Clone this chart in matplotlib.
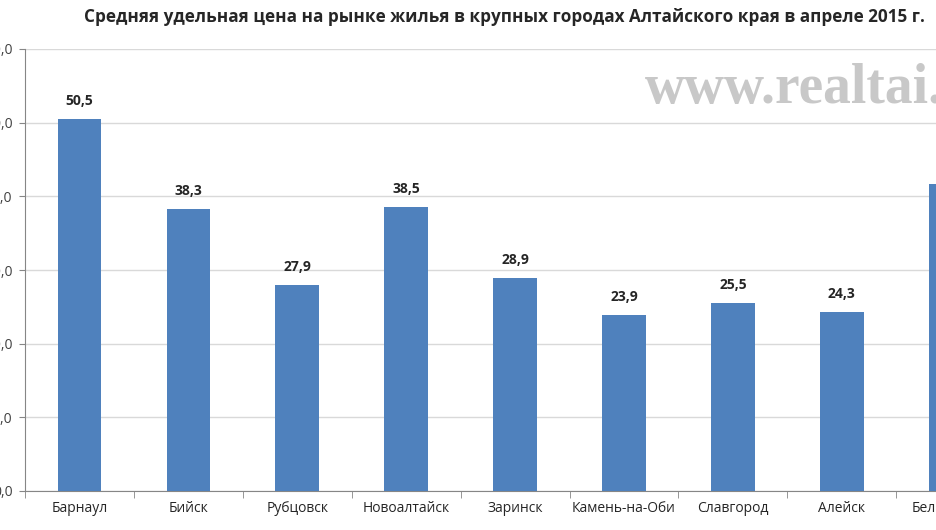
import matplotlib.pyplot as plt
import numpy as np

plt.rcParams['font.family'] = ['Open Sans', 'DejaVu Sans']

title = 'Средняя удельная цена на рынке жилья в крупных городах Алтайского края в апреле 2015 г.'
cities = ['Барнаул', 'Бийск', 'Рубцовск', 'Новоалтайск', 'Заринск',
          'Камень-на-Оби', 'Славгород', 'Алейск', 'Белокуриха']
prices = [50.5, 38.3, 27.9, 38.5, 28.9, 23.9, 25.5, 24.3, 41.7]
yticks = [0, 10, 20, 30, 40, 50, 60]

W, H = 936, 530
fig = plt.figure(figsize=(W / 100, H / 100), dpi=100)

# axes are wider than the picture: the right side is cut off like in the source
step = 108.9
left = 25
n_slots = 10
ax = fig.add_axes([left / W, (H - 491) / H, n_slots * step / W, (491 - 49) / H])

x = np.arange(len(cities))
ax.bar(x, prices, width=0.4, color='#4f81bd', zorder=3)
for xi, v in zip(x, prices):
    ax.annotate(f'{v:.1f}'.replace('.', ','), (xi, v), xytext=(0, 8),
                textcoords='offset points', ha='center', va='bottom',
                fontsize=10, fontweight='bold', color='#262626')

ax.set_xlim(-0.5, n_slots - 0.5)
ax.set_ylim(0, 60)
ax.set_yticks(yticks)
ax.set_yticklabels([f'{t:.1f}'.replace('.', ',') for t in yticks], fontsize=10, color='#404040')
ax.set_xticks(x)
ax.set_xticklabels(cities, fontsize=10, color='#262626')
ax.set_xticks(np.arange(-0.5, n_slots, 1), minor=True)
ax.tick_params(axis='x', which='major', length=0, pad=7)
ax.tick_params(axis='x', which='minor', length=5, color='#868686')
ax.tick_params(axis='y', length=4, pad=5, color='#868686')
ax.grid(axis='y', color='#d9d9d9', linewidth=1, zorder=0)
for s in ['top', 'right']:
    ax.spines[s].set_visible(False)
ax.spines['left'].set_color('#868686')
ax.spines['bottom'].set_color('#868686')

fig.text(504 / W, 1 - 17 / H, title, ha='center', va='center', fontsize=12.3,
         fontweight='bold', color='#262626')
fig.text(645 / W, 1 - 103 / H, 'www.realtai.ru', ha='left', va='baseline',
         fontsize=40, fontweight='bold', color='#c8c8c8', family='Liberation Serif')

fig.savefig('out.png', dpi=100)
